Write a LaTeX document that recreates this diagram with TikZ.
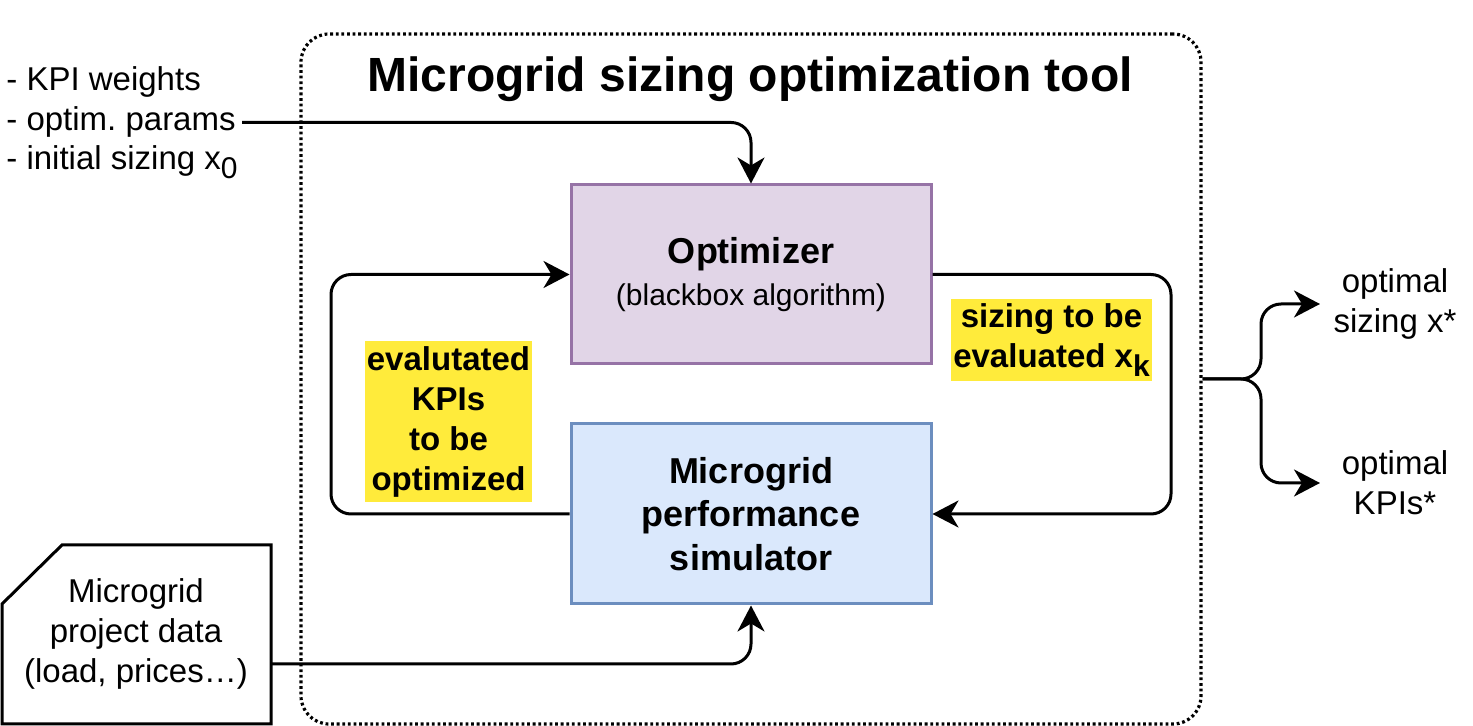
\documentclass[tikz,border=0pt]{standalone}
\usepackage{fontspec}
\setmainfont{Liberation Sans}
\usetikzlibrary{arrows.meta}
\frenchspacing

\definecolor{optFill}{HTML}{E1D5E7}
\definecolor{optLine}{HTML}{9673A6}
\definecolor{simFill}{HTML}{DAE8FC}
\definecolor{simLine}{HTML}{6C8EBF}
\definecolor{noteFill}{HTML}{FFEB3B}

% lowered subscript, close to the body size
\newcommand{\lowsub}[1]{\raisebox{-0.25em}{\fontsize{15}{15}\selectfont #1}}

\begin{document}
\begin{tikzpicture}[
    x=0.5pt,
    y=-0.5pt,
    font=\fontsize{16.5}{20}\selectfont,
    frame/.style={draw=black, line width=1.6pt, dash pattern=on 1.4pt off 1.4pt,
        rounded corners=14pt, minimum width=450pt, minimum height=345pt, inner sep=0pt},
    optBox/.style={draw=optLine, fill=optFill, line width=1.5pt, minimum width=180pt,
        minimum height=89.5pt, inner sep=0pt, align=center},
    simBox/.style={draw=simLine, fill=simFill, line width=1.5pt, minimum width=180pt,
        minimum height=90pt, inner sep=0pt, align=center,
        font=\fontsize{18}{21.75}\selectfont\bfseries},
    note/.style={fill=noteFill, inner xsep=1pt, inner ysep=2.5pt, align=center,
        font=\fontsize{16.5}{20}\selectfont\bfseries},
    inText/.style={anchor=base west, inner sep=3pt},
    outText/.style={align=center},
    card/.style={draw=black, line width=1.5pt, fill=white},
    flow/.style={draw=black, line width=1.5pt,
        -{Stealth[length=13pt, width=13.5pt, inset=4pt]}},
    roundBend/.style={rounded corners=10pt}
]
\path[use as bounding box] (0,0) rectangle (1473,726);

\node[frame] (frame) at (751,379) {};
\node[font=\fontsize{24}{28}\selectfont\bfseries] (title) at (750,79)
    {Microgrid sizing optimization tool};

\node[optBox] (opt) at (751,274.5)
    {{\fontsize{18}{22}\selectfont\bfseries Optimizer}\\[1pt]
     {\fontsize{15}{18}\selectfont (blackbox algorithm)}};
\node[simBox] (sim) at (751,514) {Microgrid\\performance\\simulator};

% inputs
\node[inText] (weights) at (0,91) {- KPI weights};
\node[inText] (params) at (0,131) {- optim. params};
\node[inText] (init) at (0,170) {- initial sizing x\lowsub{0}};

% project data card
\draw[card] (2,604) -- (62,545) -- (271,545) -- (271,724) -- (2,724) -- cycle;
\node[align=center] (data) at (136,634) {Microgrid\\project data\\(load, prices…)};
\coordinate (dataOut) at (271,664);

% feedback loop
\coordinate (loopL) at (331,394);
\coordinate (loopR) at (1171,394);
\node[note] (noteL) at (448.5,421.5) {evalutated\\KPIs\\to be\\optimized};
\node[note] (noteR) at (1051.5,340) {sizing to be\\evaluated x\lowsub{k}};

% rounding kept in a scope so the tips stay sharp
\draw[flow] (params.east) {[roundBend] -| (opt.north)};
\draw[flow] (dataOut) {[roundBend] -| (sim.south)};
\draw[flow] (sim.west) {[roundBend] -- (sim.west -| loopL) -- (opt.west -| loopL) -- (opt.west)};
\draw[flow] (opt.east) {[roundBend] -- (opt.east -| loopR) -- (sim.east -| loopR) -- (sim.east)};

% outputs
\node[outText] (outA) at (1395,304) {optimal\\sizing x*};
\node[outText] (outB) at (1395,483) {optimal\\KPIs*};
\coordinate (fork) at (1261,379);
\coordinate (outTip) at (1320,379);
\draw[flow] (frame.east) {[roundBend] -| (fork |- outA) -- (outA -| outTip)};
\draw[flow] (frame.east) {[roundBend] -| (fork |- outB) -- (outB -| outTip)};
\end{tikzpicture}
\end{document}
